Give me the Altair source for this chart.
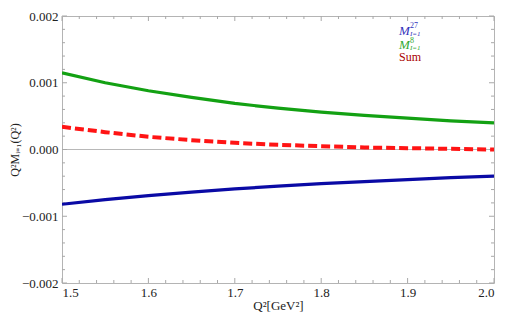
import altair as alt
import pandas as pd

q2 = [1.5, 1.55, 1.6, 1.65, 1.7, 1.75, 1.8, 1.85, 1.9, 1.95, 2.0]
m27 = [-0.00082, -0.00075, -0.00069, -0.00064, -0.00059, -0.00055, -0.00051, -0.00048, -0.00045, -0.00042, -0.00040]
m8 = [0.00115, 0.00100, 0.00088, 0.00078, 0.00069, 0.00062, 0.00056, 0.00051, 0.00047, 0.00043, 0.00040]
msum = [0.00034, 0.00026, 0.00019, 0.00014, 0.00010, 0.00007, 0.00005, 0.00003, 0.00002, 0.00001, 0.00000]

x_major = [1.5, 1.6, 1.7, 1.8, 1.9, 2.0]
x_minor = [1.52, 1.54, 1.56, 1.58, 1.62, 1.64, 1.66, 1.68, 1.72, 1.74, 1.76, 1.78,
           1.82, 1.84, 1.86, 1.88, 1.92, 1.94, 1.96, 1.98]
y_major = [-0.002, -0.001, 0.0, 0.001, 0.002]
y_minor = [-0.0018, -0.0016, -0.0014, -0.0012, -0.0008, -0.0006, -0.0004, -0.0002,
           0.0002, 0.0004, 0.0006, 0.0008, 0.0012, 0.0014, 0.0016, 0.0018]

W, H = 432, 267
FONT = "Liberation Serif"
TICK = "#a8a8a8"

df = pd.DataFrame({"q2": q2, "m27": m27, "m8": m8, "sum": msum})

xs = alt.Scale(domain=[1.5, 2.0], nice=False, zero=False)
ys = alt.Scale(domain=[-0.002, 0.002], nice=False)

xaxis = alt.Axis(values=x_major, format=".1f", ticks=False, domain=False, grid=False,
                 labelFont=FONT, labelFontSize=13, labelColor="#222", labelPadding=3,
                 title="Q²[GeV²]", titleFont=FONT, titleFontSize=13, titleFontWeight="normal",
                 titleColor="#222", titlePadding=0)
yaxis = alt.Axis(values=y_major, format=".3f", ticks=False, domain=False, grid=False,
                 labelFont=FONT, labelFontSize=13, labelColor="#222", labelPadding=4,
                 title="Q²Mᵢ₌₁(Q²)", titleFont=FONT, titleFontSize=12, titleFontWeight="normal",
                 titleColor="#222", titlePadding=0)

def X(f):
    return alt.X(f, scale=xs, axis=xaxis)

def Y(f):
    return alt.Y(f, scale=ys, axis=yaxis)

zero = alt.Chart(pd.DataFrame({"y": [0.0]})).mark_rule(color="#b8b8b8", strokeWidth=1).encode(
    y=Y("y:Q"))

def xticks(vals, size):
    d = pd.DataFrame({"q2": vals})
    b = alt.Chart(d).mark_rule(color=TICK, strokeWidth=1)
    bot = b.encode(x=X("q2:Q"), y=alt.value(H), y2=alt.value(H - size))
    top = b.encode(x=X("q2:Q"), y=alt.value(0), y2=alt.value(size))
    return [bot, top]

def yticks(vals, size):
    d = pd.DataFrame({"y": vals})
    b = alt.Chart(d).mark_rule(color=TICK, strokeWidth=1)
    left = b.encode(y=Y("y:Q"), x=alt.value(0), x2=alt.value(size))
    right = b.encode(y=Y("y:Q"), x=alt.value(W), x2=alt.value(W - size))
    return [left, right]

base = alt.Chart(df)
lines = []
for col, color, dash, sw in [("m8", "#13a113", None, 3.2), ("m27", "#0a0aa5", None, 3.2),
                             ("sum", "#ff1414", [9, 4], 4)]:
    kw = dict(color=color, strokeWidth=sw, clip=True)
    if dash:
        kw["strokeDash"] = dash
    lines.append(base.mark_line(**kw).encode(x=X("q2:Q"), y=Y(f"{col}:Q")))

def txt(s, x, y, size, color, italic=False):
    kw = dict(text=s, font=FONT, fontSize=size, color=color, align="left", baseline="alphabetic")
    if italic:
        kw["fontStyle"] = "italic"
    return alt.Chart(pd.DataFrame({"a": [0]})).mark_text(**kw).encode(x=alt.value(x), y=alt.value(y))

legend = [
    txt("M", 337, 19, 13, "#3333bb", True),
    txt("27", 348, 12, 8, "#3333bb"),
    txt("I=1", 348, 20, 7, "#3333bb", True),
    txt("M", 337, 33, 13, "#33aa33", True),
    txt("8", 348, 27, 8, "#33aa33"),
    txt("I=1", 348, 34, 7, "#33aa33", True),
    txt("Sum", 337, 45, 12, "#aa0000"),
]

layers = [zero] + xticks(x_minor, 3) + xticks(x_major, 5) + yticks(y_minor, 3) + yticks(y_major, 5) + lines + legend

chart = alt.layer(*layers).properties(
    width=W, height=H,
    autosize=alt.AutoSizeParams(type="none"),
    padding={"left": 54, "top": 8, "right": 10, "bottom": 34},
).configure_view(stroke="#b4b4b4", strokeWidth=1)

chart.save("out.html", embed_options={"renderer": "svg", "actions": False})
